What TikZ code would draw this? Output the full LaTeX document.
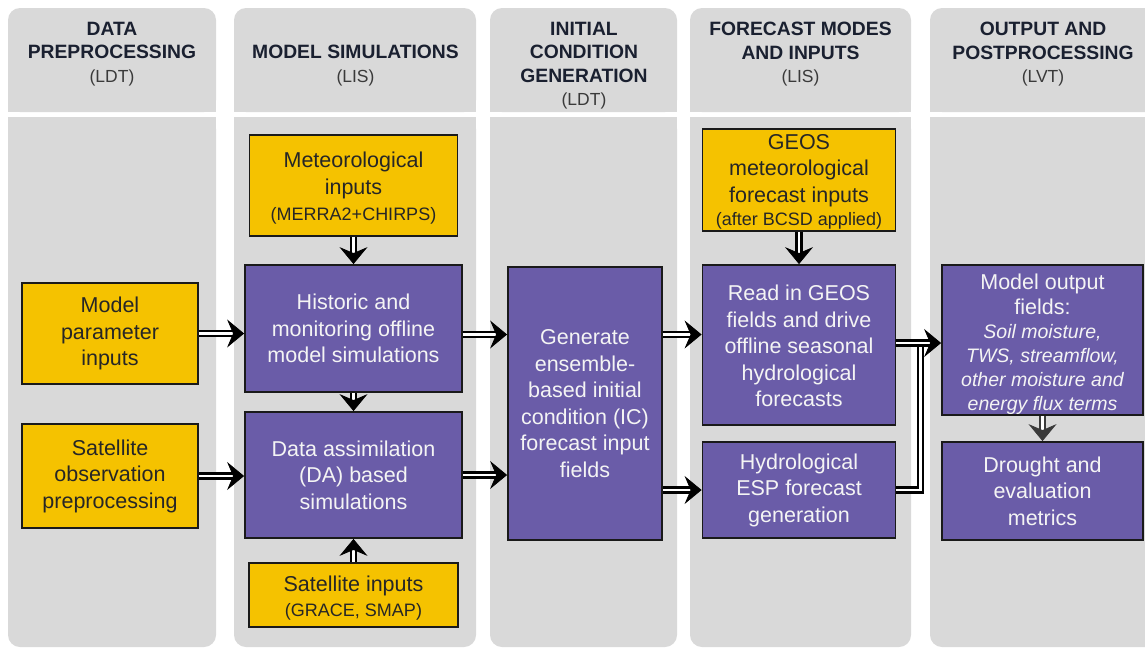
\documentclass[tikz,border=0pt]{standalone}
\usepackage{fontspec}
\setmainfont{Liberation Sans}
\usetikzlibrary{arrows.meta,calc}
\definecolor{panel}{HTML}{D9D9D9}
\definecolor{yel}{HTML}{F5C200}
\definecolor{purp}{HTML}{6A5CA8}
\definecolor{hdr}{HTML}{1A2030}
\definecolor{subc}{HTML}{3A3A3A}
\definecolor{ytext}{HTML}{262626}
\definecolor{ptext}{HTML}{F4F4F4}
\definecolor{boxline}{HTML}{1A1A1A}
\definecolor{darkarr}{HTML}{3A3A3A}
\newcommand\hdrsub{\mdseries\color{subc}\fontsize{17.5}{23.5}\selectfont}
\newcommand\smallin[1]{{\fontsize{18}{22}\selectfont #1}}
\newcommand\itl[1]{{\itshape\fontsize{19.5}{24}\selectfont #1}}
\tikzset{
  hdrnode/.style={anchor=north, align=center, inner sep=0pt, text=hdr,
    font=\fontsize{19.3}{23.5}\selectfont\bfseries},
  ybox/.style={draw=boxline, line width=1.8pt, fill=yel, text=ytext, align=center,
    inner sep=0pt, font=\fontsize{21.5}{26.5}\selectfont},
  pbox/.style={draw=boxline, line width=1.8pt, fill=purp, text=ptext, align=center,
    inner sep=0pt, font=\fontsize{21.5}{26.5}\selectfont},
  dbl/.style={draw=#1, line width=2.7pt, double=white, double distance=2.2pt},
  dbl/.default=black,
  tipst/.style={draw=#1, fill=#1, line width=0.8pt,
    -{Stealth[length=17pt,width=28pt,inset=6pt]}},
  tipst/.default=black
}
\newcommand\darr[3][black]{%
  \draw[dbl=#1] #2 -- ($#3!9pt!#2$);
  \draw[tipst=#1] ($#3!5pt!#2$) -- #3;}
\begin{document}
\begin{tikzpicture}[x=1pt,y=-1pt]
\useasboundingbox (0,0) rectangle (1145,648);
\clip (0,0) rectangle (1145,648);
\fill[white] (0,0) rectangle (1145,648);
% panels
\foreach \a/\b in {8/216,234/476,490/677,690/911,930/1160}{
  \fill[panel, rounded corners=12pt] (\a,8) rectangle (\b,112);
  \fill[panel] (\a,80) rectangle (\b,112);
  \fill[panel, rounded corners=12pt] (\a,117) rectangle (\b,647);
  \fill[panel] (\a,117) rectangle (\b,150);
}
% headers
\node[hdrnode] (h1) at (112,22) {DATA\\PREPROCESSING\\{\hdrsub (LDT)}};
\node[hdrnode] (h2) at (355.5,45) {MODEL SIMULATIONS\\{\hdrsub (LIS)}};
\node[hdrnode] (h3) at (584,22) {INITIAL\\CONDITION\\GENERATION\\{\hdrsub (LDT)}};
\node[hdrnode] (h4) at (800.5,22) {FORECAST MODES\\AND INPUTS\\{\hdrsub (LIS)}};
\node[hdrnode] (h5) at (1043,22) {OUTPUT AND\\POSTPROCESSING\\{\hdrsub (LVT)}};
% boxes
\node[ybox, minimum width=176pt, minimum height=101pt] (mp) at (110,333.5)
  {Model\\parameter\\inputs};
\node[ybox, minimum width=176pt, minimum height=104pt] (so) at (110,476)
  {Satellite\\observation\\preprocessing};
\node[ybox, minimum width=208pt, minimum height=101pt] (met) at (353.5,185.5)
  {\rule{0pt}{21pt}Meteorological\\inputs\\\smallin{(MERRA2+CHIRPS)}};
\node[pbox, minimum width=217pt, minimum height=127pt] (hist) at (353.5,328.5)
  {Historic and\\monitoring offline\\model simulations};
\node[pbox, minimum width=217pt, minimum height=126pt] (da) at (353.5,475)
  {Data assimilation\\(DA) based\\simulations};
\node[ybox, minimum width=209pt, minimum height=64pt, font=\fontsize{21.5}{25}\selectfont] (sat) at (353.5,595)
  {\rule{0pt}{21pt}Satellite inputs\\\smallin{(GRACE, SMAP)}};
\node[pbox, minimum width=154pt, minimum height=273pt] (gen) at (585,403.5)
  {Generate\\ensemble-\\based initial\\condition (IC)\\forecast input\\fields};
\node[ybox, minimum width=193pt, minimum height=102pt] (geos) at (799,180)
  {\rule{0pt}{19pt}GEOS\\meteorological\\forecast inputs\\[-3pt]\smallin{(after BCSD applied)}};
\node[pbox, minimum width=193pt, minimum height=160pt] (read) at (799,345)
  {\rule{0pt}{18pt}Read in GEOS\\fields and drive\\offline seasonal\\hydrological\\forecasts};
\node[pbox, minimum width=193pt, minimum height=96pt] (esp) at (799,490)
  {Hydrological\\ESP forecast\\generation};
\node[pbox, minimum width=201pt, minimum height=150pt, font=\fontsize{21.5}{24}\selectfont] (out) at (1042.5,340)
  {\rule{0pt}{25pt}Model output\\[1pt]fields:\\\itl{Soil moisture,}\\\itl{TWS, streamflow,}\\\itl{other moisture and}\\\itl{energy flux terms}};
\node[pbox, minimum width=201pt, minimum height=98pt] (dr) at (1042.5,491)
  {Drought and\\evaluation\\metrics};
% helper coordinates
\coordinate (t1) at (mp.east -| hist.west);
\coordinate (t2) at (so.east -| da.west);
\coordinate (s6) at ([yshift=-6pt]hist.east);
\coordinate (t6) at (s6 -| gen.west);
\coordinate (t7) at (da.east -| gen.west);
\coordinate (s8) at (gen.east |- s6);
\coordinate (t8) at (s8 -| read.west);
\coordinate (s9) at (esp.west -| gen.east);
\coordinate (s11) at ([yshift=2pt]read.east);
\coordinate (t11) at (s11 -| out.west);
\coordinate (jn) at ([xshift=24pt]s11);
% connectors
\darr{(mp.east)}{(t1)}
\darr{(so.east)}{(t2)}
\darr{(met.south)}{(hist.north)}
\darr{(hist.south)}{(da.north)}
\darr{(sat.north)}{(da.south)}
\darr{(s6)}{(t6)}
\darr{(da.east)}{(t7)}
\darr{(s8)}{(t8)}
\darr{(s9)}{(esp.west)}
\darr{(geos.south)}{(read.north)}
\draw[dbl] (esp.east) -| (jn);
\darr{(s11)}{(t11)}
\darr[darkarr]{(out.south)}{(dr.north)}
\end{tikzpicture}
\end{document}
